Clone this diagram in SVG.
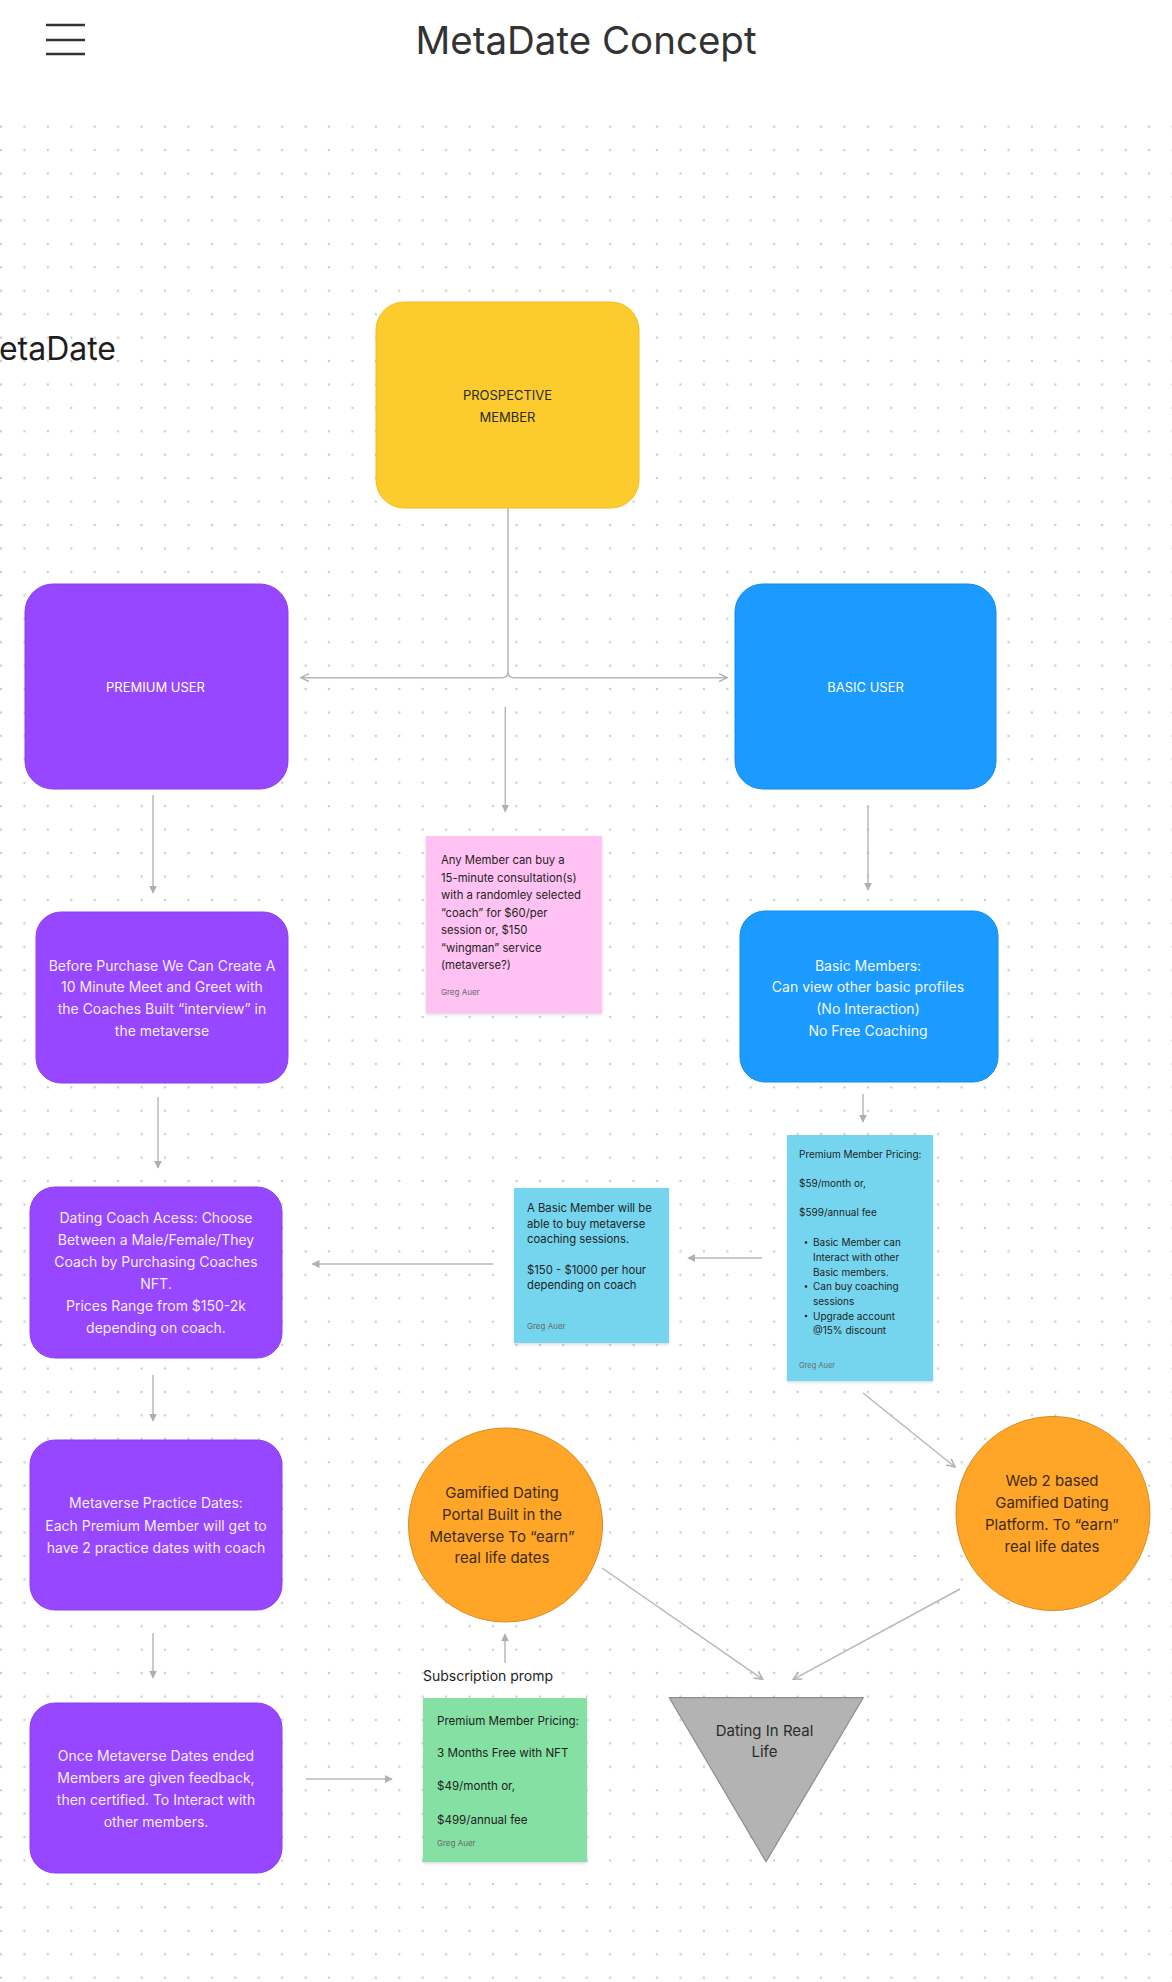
<svg xmlns="http://www.w3.org/2000/svg" width="1172" height="1982" viewBox="0 0 1172 1982">
<defs>
<pattern id="dots" x="-10.7" y="115" width="23.43" height="23.43" patternUnits="userSpaceOnUse">
<circle cx="11.715" cy="11.715" r="1.25" fill="#cccccc"/>
</pattern>
<marker id="tri" viewBox="0 0 10 10" refX="9" refY="5" markerWidth="8" markerHeight="8" markerUnits="userSpaceOnUse" orient="auto">
<path d="M0,0 L10,5 L0,10 Z" fill="#b0b0b0"/>
</marker>
<marker id="chev" viewBox="0 0 10 10" refX="9" refY="5" markerWidth="10" markerHeight="10" markerUnits="userSpaceOnUse" orient="auto">
<path d="M1,1 L9,5 L1,9" fill="none" stroke="#b0b0b0" stroke-width="1.5"/>
</marker>
<filter id="shadow" x="-10%" y="-10%" width="120%" height="120%">
<feDropShadow dx="0" dy="1.5" stdDeviation="1.5" flood-color="#000" flood-opacity="0.15"/>
</filter>
</defs>
<style>
text { font-family: Inter, "Noto Sans", "Liberation Sans", sans-serif; }
.title { font-size: 38.5px; fill: #333; }
.big { font-size: 32px; fill: #1e1e1e; }
.box-label { font-size: 13px; text-anchor: middle; }
.light { fill: #ffffff; }
.dark { fill: #2b2b2b; }
.box-text { font-size: 14px; fill: #f4ecff; text-anchor: middle; }
.box-text-b { font-size: 14px; fill: #f2f8ff; text-anchor: middle; }
.circ-text { font-size: 15px; fill: #3d2b12; text-anchor: middle; }
.tri-text { font-size: 15px; fill: #2b2b2b; text-anchor: middle; }
.note { font-size: 11.3px; fill: #1e1e1e; }
.note-s { font-size: 10px; fill: #1e1e1e; }
.note-g { font-size: 11.6px; fill: #1e1e1e; }
.author { font-size: 8px; fill: #6b6b6b; }
.conn { fill: none; stroke: #b8b8b8; stroke-width: 1.5; }
.purple { fill: #9747FF; stroke: #8a3ef0; stroke-width: 1; }
.blue { fill: #1B9AFF; stroke: #1689e8; stroke-width: 1; }
.orange { fill: #FFA629; stroke: #DB8B1E; stroke-width: 1; }
</style>

<rect x="0" y="0" width="1172" height="1982" fill="#ffffff"/>
<rect x="0" y="115" width="1172" height="1867" fill="url(#dots)"/>

<g id="header">
<line x1="46" y1="25" x2="85" y2="25" stroke="#333" stroke-width="2.5"/>
<line x1="46" y1="40" x2="85" y2="40" stroke="#333" stroke-width="2.5"/>
<line x1="46" y1="54" x2="85" y2="54" stroke="#333" stroke-width="2.5"/>
<text class="title" x="586" y="54" text-anchor="middle">MetaDate Concept</text>
</g>

<g id="section-title">
<text class="big" x="116" y="360" text-anchor="end">etaDate</text>
</g>

<g id="connectors">
<path class="conn" d="M508,508 V672 Q508,677.7 502,677.7 H301" marker-end="url(#chev)"/>
<path class="conn" d="M508,672 Q508,677.7 514,677.7 H727" marker-end="url(#chev)"/>
<path class="conn" d="M505.3,706.7 V811.7" marker-end="url(#tri)"/>
<path class="conn" d="M153,795 V893" marker-end="url(#tri)"/>
<path class="conn" d="M868,806 V890" marker-end="url(#tri)"/>
<path class="conn" d="M158,1097 V1168" marker-end="url(#tri)"/>
<path class="conn" d="M863,1094 V1122" marker-end="url(#tri)"/>
<path class="conn" d="M762,1258 H688" marker-end="url(#tri)"/>
<path class="conn" d="M493.3,1264 H312.3" marker-end="url(#tri)"/>
<path class="conn" d="M863,1393 L955,1467" marker-end="url(#chev)"/>
<path class="conn" d="M153,1375 V1421" marker-end="url(#tri)"/>
<path class="conn" d="M153,1633 V1678" marker-end="url(#tri)"/>
<path class="conn" d="M306,1779 H392" marker-end="url(#tri)"/>
<path class="conn" d="M505,1663 V1634" marker-end="url(#tri)"/>
<path class="conn" d="M602,1568 L762.7,1679.3" marker-end="url(#chev)"/>
<path class="conn" d="M960,1589 L793.3,1679.3" marker-end="url(#chev)"/>
</g>

<g id="prospective-member">
<rect x="376" y="302" width="263" height="206" rx="28" fill="#FCCB2D" stroke="#f0be20" stroke-width="1"/>
<text class="box-label dark" x="507.5" y="399.7">PROSPECTIVE</text>
<text class="box-label dark" x="507.5" y="421.7">MEMBER</text>
</g>

<g id="premium-user">
<rect class="purple" x="25" y="584" width="263" height="205" rx="28"/>
<text class="box-label light" x="155.5" y="691.5">PREMIUM USER</text>
</g>

<g id="basic-user">
<rect class="blue" x="735" y="584" width="261" height="205" rx="28"/>
<text class="box-label light" x="865.5" y="691.5">BASIC USER</text>
</g>

<g id="consultation-note">
<rect x="426" y="836" width="176" height="177" fill="#FFC2F2" filter="url(#shadow)"/>
<text class="note" x="441" y="864">Any Member can buy a</text>
<text class="note" x="441" y="881.6">15-minute consultation(s)</text>
<text class="note" x="441" y="899">with a randomley selected</text>
<text class="note" x="441" y="916.7">“coach” for $60/per</text>
<text class="note" x="441" y="934">session or, $150</text>
<text class="note" x="441" y="951.7">“wingman” service</text>
<text class="note" x="441" y="969">(metaverse?)</text>
<text class="author" x="441" y="995">Greg Auer</text>
</g>

<g id="before-purchase">
<rect class="purple" x="36" y="912" width="252" height="171" rx="25"/>
<text class="box-text" x="162" y="970.7">Before Purchase We Can Create A</text>
<text class="box-text" x="162" y="992.3">10 Minute Meet and Greet with</text>
<text class="box-text" x="162" y="1014">the Coaches Built “interview” in</text>
<text class="box-text" x="162" y="1035.7">the metaverse</text>
</g>

<g id="basic-members">
<rect class="blue" x="740" y="911" width="258" height="171" rx="25"/>
<text class="box-text-b" x="868" y="970.7">Basic Members:</text>
<text class="box-text-b" x="868" y="992.3">Can view other basic profiles</text>
<text class="box-text-b" x="868" y="1014">(No Interaction)</text>
<text class="box-text-b" x="868" y="1035.7">No Free Coaching</text>
</g>

<g id="premium-pricing-note">
<rect x="787" y="1135" width="146" height="246" fill="#75D5EF" filter="url(#shadow)"/>
<text class="note-s" x="799" y="1158">Premium Member Pricing:</text>
<text class="note-s" x="799" y="1187">$59/month or,</text>
<text class="note-s" x="799" y="1216">$599/annual fee</text>
<circle cx="806" cy="1242.5" r="1.3" fill="#1e1e1e"/>
<text class="note-s" x="813" y="1246">Basic Member can</text>
<text class="note-s" x="813" y="1260.5">Interact with other</text>
<text class="note-s" x="813" y="1275.5">Basic members.</text>
<circle cx="806" cy="1286.5" r="1.3" fill="#1e1e1e"/>
<text class="note-s" x="813" y="1290">Can buy coaching</text>
<text class="note-s" x="813" y="1305">sessions</text>
<circle cx="806" cy="1316" r="1.3" fill="#1e1e1e"/>
<text class="note-s" x="813" y="1319.5">Upgrade account</text>
<text class="note-s" x="813" y="1334">@15% discount</text>
<text class="author" x="799" y="1368" style="font-size:7.5px">Greg Auer</text>
</g>

<g id="coaching-sessions-note">
<rect x="514" y="1188" width="155" height="155" fill="#75D5EF" filter="url(#shadow)"/>
<text class="note" x="527" y="1212">A Basic Member will be</text>
<text class="note" x="527" y="1228">able to buy metaverse</text>
<text class="note" x="527" y="1243">coaching sessions.</text>
<text class="note" x="527" y="1274">$150 - $1000 per hour</text>
<text class="note" x="527" y="1289">depending on coach</text>
<text class="author" x="527" y="1329">Greg Auer</text>
</g>

<g id="dating-coach-access">
<rect class="purple" x="30" y="1187" width="252" height="171" rx="25"/>
<text class="box-text" x="156" y="1223">Dating Coach Acess: Choose</text>
<text class="box-text" x="156" y="1245">Between a Male/Female/They</text>
<text class="box-text" x="156" y="1267">Coach by Purchasing Coaches</text>
<text class="box-text" x="156" y="1289">NFT.</text>
<text class="box-text" x="156" y="1311">Prices Range from $150-2k</text>
<text class="box-text" x="156" y="1333">depending on coach.</text>
</g>

<g id="practice-dates">
<rect class="purple" x="30" y="1440" width="252" height="170" rx="25"/>
<text class="box-text" x="156" y="1508">Metaverse Practice Dates:</text>
<text class="box-text" x="156" y="1530.5">Each Premium Member will get to</text>
<text class="box-text" x="156" y="1553">have 2 practice dates with coach</text>
</g>

<g id="gamified-portal">
<circle class="orange" cx="505.5" cy="1525" r="97"/>
<text class="circ-text" x="502" y="1498">Gamified Dating</text>
<text class="circ-text" x="502" y="1520">Portal Built in the</text>
<text class="circ-text" x="502" y="1542">Metaverse To “earn”</text>
<text class="circ-text" x="502" y="1563">real life dates</text>
</g>

<g id="web2-platform">
<circle class="orange" cx="1053" cy="1513.5" r="97"/>
<text class="circ-text" x="1052" y="1486">Web 2 based</text>
<text class="circ-text" x="1052" y="1508">Gamified Dating</text>
<text class="circ-text" x="1052" y="1530">Platform. To “earn”</text>
<text class="circ-text" x="1052" y="1552">real life dates</text>
</g>

<g id="once-metaverse-dates">
<rect class="purple" x="30" y="1703" width="252" height="170" rx="25"/>
<text class="box-text" x="156" y="1761">Once Metaverse Dates ended</text>
<text class="box-text" x="156" y="1783">Members are given feedback,</text>
<text class="box-text" x="156" y="1805">then certified. To Interact with</text>
<text class="box-text" x="156" y="1827">other members.</text>
</g>

<g id="subscription-prompt">
<text x="423" y="1680.7" style="font-size:14px; fill:#1e1e1e">Subscription promp</text>
<rect x="423" y="1698" width="164" height="164" fill="#85E0A3" filter="url(#shadow)"/>
<text class="note-g" x="437" y="1724.5">Premium Member Pricing:</text>
<text class="note-g" x="437" y="1757">3 Months Free with NFT</text>
<text class="note-g" x="437" y="1790">$49/month or,</text>
<text class="note-g" x="437" y="1823.5">$499/annual fee</text>
<text class="author" x="437" y="1846">Greg Auer</text>
</g>

<g id="dating-irl">
<polygon points="669.3,1697.7 863.3,1697.7 766,1861.7" fill="#B3B3B3" stroke="#8c8c8c" stroke-width="1.2" stroke-linejoin="round"/>
<text class="tri-text" x="764.5" y="1735.5">Dating In Real</text>
<text class="tri-text" x="764.5" y="1757">Life</text>
</g>
</svg>
